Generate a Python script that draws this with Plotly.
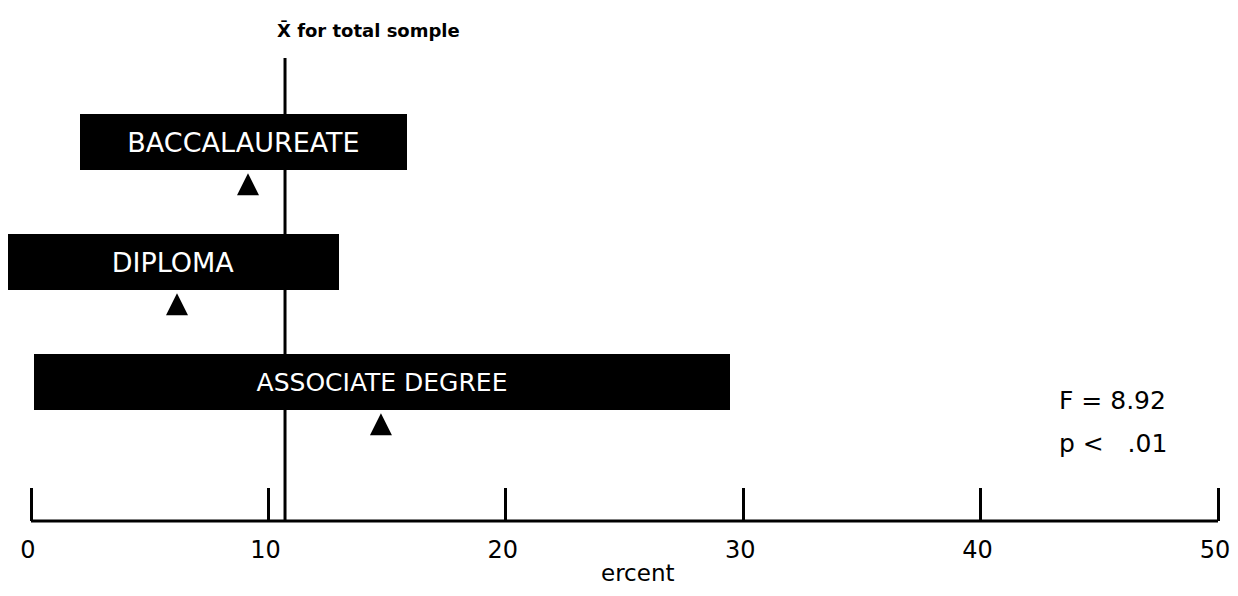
import plotly.graph_objects as go

categories = ["ASSOCIATE DEGREE", "DIPLOMA", "BACCALAUREATE"]
range_low = [0.13, -1.0, 2.06]
range_high = [29.44, 12.97, 15.84]
group_means = [14.74, 6.15, 9.14]
total_mean = 10.7
tick_vals = [0, 10, 20, 30, 40, 50]
tick_text = ["0", "10", "20", "30", "40", "50"]
stats_text = ["F = 8.92", "p <   .01"]
label_sizes = [25, 27, 27]

FONT = "DejaVu Sans"
W, H = 1230, 580
PLOT_H = 513
ypos = list(range(len(categories)))

fig = go.Figure()
fig.add_trace(go.Bar(
    y=ypos,
    x=[h - l for l, h in zip(range_low, range_high)],
    base=range_low,
    orientation="h",
    width=0.467,
    marker=dict(color="black", line=dict(width=0)),
    text=categories,
    textposition="inside",
    insidetextanchor="middle",
    textfont=dict(color="white", size=label_sizes, family=FONT),
    showlegend=False,
    hoverinfo="skip",
))
fig.add_trace(go.Scatter(
    x=group_means,
    y=[p - 0.26 for p in ypos],
    mode="markers",
    marker=dict(symbol="arrow-up", size=22, color="black", line=dict(width=0)),
    showlegend=False,
))

# mean line for total sample
fig.add_shape(type="line", xref="x", yref="y", x0=total_mean, x1=total_mean,
              y0=-1.158, y1=2.70, line=dict(color="black", width=3), layer="below")
# axis baseline only between first and last tick
fig.add_shape(type="line", xref="x", yref="paper", x0=tick_vals[0], x1=tick_vals[-1],
              y0=0, y1=0, line=dict(color="black", width=3))

fig.add_annotation(x=total_mean, xref="x", xshift=-10, xanchor="left",
                   y=2.93, yref="y", yanchor="middle",
                   text="<b>X\u0304 for total somple</b>", showarrow=False,
                   font=dict(size=18, family=FONT, color="black"))
fig.add_annotation(x=1049 / W, xref="paper", xanchor="left",
                   y=(PLOT_H - 392) / PLOT_H, yref="paper", yanchor="middle",
                   text=stats_text[0], showarrow=False,
                   font=dict(size=25, family=FONT, color="black"))
fig.add_annotation(x=1049 / W, xref="paper", xanchor="left",
                   y=(PLOT_H - 435) / PLOT_H, yref="paper", yanchor="middle",
                   text=stats_text[1], showarrow=False,
                   font=dict(size=25, family=FONT, color="black"))
fig.add_annotation(x=630 / W, xref="paper", xanchor="center",
                   y=-(H - PLOT_H) / PLOT_H, yref="paper", yanchor="bottom",
                   text="ercent", showarrow=False,
                   font=dict(size=23, family=FONT, color="black"))

fig.update_layout(
    width=W, height=H,
    margin=dict(l=0, r=0, t=0, b=H - PLOT_H),
    plot_bgcolor="white", paper_bgcolor="white",
    bargap=0,
    xaxis=dict(range=[-0.969, -0.969 + W / 23.74], tickvals=tick_vals, ticktext=tick_text,
               ticks="inside", ticklen=33, tickwidth=2.5, tickcolor="black",
               showline=False, showgrid=False, zeroline=False,
               tickfont=dict(size=24, family=FONT, color="black"),
               ticklabelstandoff=12, ticklabelshift=-3, ticklabeloverflow="allow"),
    yaxis=dict(range=[-1.158, 3.117], visible=False, showgrid=False, zeroline=False),
    font=dict(family=FONT),
)

fig.write_html("out.html")
